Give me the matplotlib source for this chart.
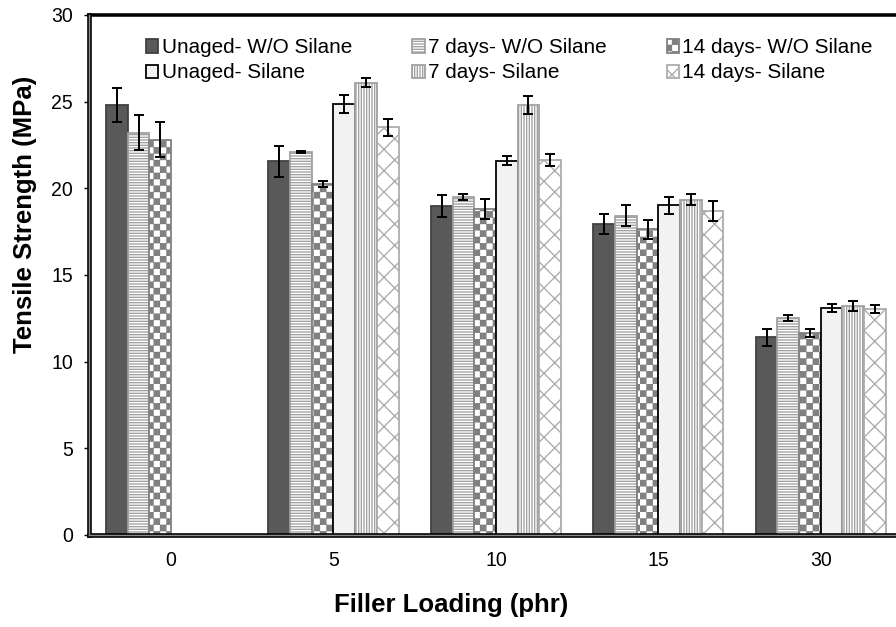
import warnings
import numpy as np
import matplotlib
matplotlib.use("Agg")
import matplotlib.pyplot as plt
import matplotlib.hatch as mhatch
from matplotlib.path import Path

warnings.filterwarnings("ignore")

plt.rcParams["font.family"] = ["Liberation Sans", "DejaVu Sans"]
plt.rcParams["hatch.linewidth"] = 0.75

# data (MPa)
loading = ["0", "5", "10", "15", "30"]
labels = ["Unaged- W/O Silane", "Unaged- Silane",
          "7 days- W/O Silane", "7 days- Silane",
          "14 days- W/O Silane", "14 days- Silane"]

unaged_wo = [24.8, 21.56, 18.98, 17.95, 11.41]
unaged_wo_err = [1.0, 0.88, 0.65, 0.58, 0.48]
days7_wo = [23.22, 22.1, 19.5, 18.43, 12.52]
days7_wo_err = [1.02, 0.05, 0.16, 0.63, 0.16]
days14_wo = [22.8, 20.25, 18.8, 17.64, 11.67]
days14_wo_err = [1.0, 0.2, 0.58, 0.55, 0.22]
unaged_si = [np.nan, 24.87, 21.6, 19.02, 13.12]
unaged_si_err = [np.nan, 0.5, 0.24, 0.5, 0.23]
days7_si = [np.nan, 26.1, 24.81, 19.35, 13.21]
days7_si_err = [np.nan, 0.28, 0.5, 0.34, 0.27]
days14_si = [np.nan, 23.52, 21.64, 18.7, 13.04]
days14_si_err = [np.nan, 0.5, 0.35, 0.58, 0.21]


# checkerboard fill, registered as an extra hatch type ("c")
class CheckerHatch(mhatch.HatchPatternBase):
    def __init__(self, hatch, density):
        self.periods = hatch.count("c") * 5
        self.num_vertices = 2 * self.periods ** 2 * 5

    def set_vertices_and_codes(self, vertices, codes):
        n = 2 * self.periods
        step = 1.0 / n
        d = 0.004
        sq = np.array([[d, d], [step - d, d], [step - d, step - d],
                       [d, step - d], [d, d]])
        parts = [sq + [i * step, j * step]
                 for i in range(n) for j in range(n) if (i + j) % 2 == 0]
        vertices[:] = np.concatenate(parts)
        codes[:] = np.tile([Path.MOVETO, Path.LINETO, Path.LINETO,
                            Path.LINETO, Path.CLOSEPOLY], len(parts))


mhatch._hatch_types.append(CheckerHatch)

# order of the bars inside a group
bars = [
    (unaged_wo, unaged_wo_err, "#595959", "#404040", None, labels[0]),
    (days7_wo, days7_wo_err, "white", "#a0a0a0", "--------", labels[2]),
    (days14_wo, days14_wo_err, "white", "#808080", "cc", labels[4]),
    (unaged_si, unaged_si_err, "#f2f2f2", "black", None, labels[1]),
    (days7_si, days7_si_err, "white", "#a0a0a0", "||||||||", labels[3]),
    (days14_si, days14_si_err, "white", "#ababab", "xx", labels[5]),
]

fig = plt.figure(figsize=(896 / 128, 627 / 128), dpi=128)
ax = fig.add_axes([89 / 896, 92 / 627, 813 / 896, 520 / 627])

x = np.arange(len(loading))
w = 0.1335
handles = {}
for i, (vals, errs, face, edge, hatch, lab) in enumerate(bars):
    pos = x + (i - 2.5) * w
    b = ax.bar(pos, vals, w, color=face, edgecolor=edge, hatch=hatch,
               linewidth=1.0, label=lab, zorder=2)
    ax.errorbar(pos, vals, yerr=errs, fmt="none", ecolor="black",
                elinewidth=1.1, capsize=3, capthick=1.1, zorder=3)
    handles[lab] = b

ax.set_xlim(-0.505, 4.5)
ax.set_ylim(0, 30)
ax.set_yticks(range(0, 31, 5))
ax.set_xticks(x)
ax.set_xticklabels(loading)
ax.tick_params(axis="x", length=0, pad=9, labelsize=11)
ax.tick_params(axis="y", length=3, width=0.8, pad=6, labelsize=11)

ax.set_xlabel("Filler Loading (phr)", fontsize=14.5, fontweight="bold",
              va="center")
ax.xaxis.set_label_coords(0.445, -0.1346)
ax.set_ylabel("Tensile Strength (MPa)", fontsize=14.5, fontweight="bold",
              va="center")
ax.yaxis.set_label_coords(-0.079, 0.616)

# frame: heavy top line, double lines left and bottom
ax.spines["right"].set_visible(False)
ax.spines["top"].set_linewidth(2.0)
ax.spines["left"].set_linewidth(2.6)
ax.spines["bottom"].set_linewidth(2.6)
ax.plot([0, 0], [0, 1], transform=ax.transAxes, color="#8c8c8c", lw=0.8,
        clip_on=False, zorder=5)
ax.plot([0, 1], [0, 0], transform=ax.transAxes, color="#8c8c8c", lw=0.8,
        clip_on=False, zorder=5)

ax.legend([handles[l] for l in labels], labels, ncol=3, loc="upper left",
          bbox_to_anchor=(146 / 896, 0.939), bbox_transform=fig.transFigure,
          frameon=False, fontsize=11.7, handlelength=0.6, handleheight=0.6,
          handletextpad=0.15, columnspacing=2.9, labelspacing=0.3,
          borderpad=0, borderaxespad=0)

fig.savefig("out.png", dpi=128)
